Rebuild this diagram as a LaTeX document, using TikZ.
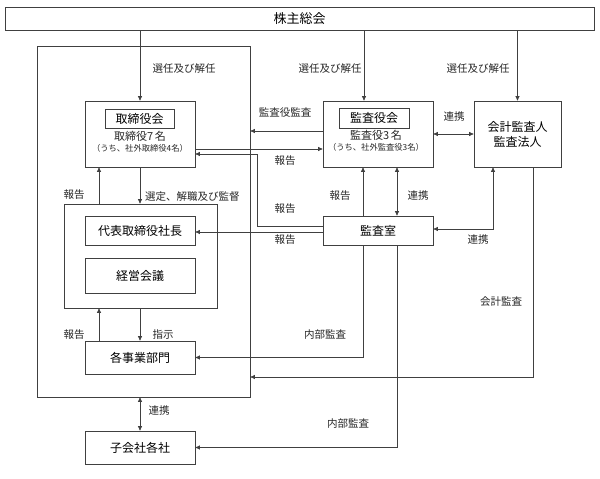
\documentclass[tikz,border=0pt]{standalone}
\usepackage{fontspec}
\newfontfamily\jp{Noto Sans CJK JP}
\usetikzlibrary{arrows.meta,calc}
\tikzset{
  box/.style={draw=black!75, line width=0.7pt, rectangle, inner sep=0pt, font=\jp\fontsize{12}{13}\selectfont},
  lbl/.style={font=\jp\fontsize{10.5}{12}\selectfont, inner sep=0pt, text=black!85},
  con/.style={draw=black!75, line width=0.7pt},
  arr/.style={con, -{Triangle[length=4.5pt,width=4pt]}},
  darr/.style={con, {Triangle[length=4.5pt,width=4pt]}-{Triangle[length=4.5pt,width=4pt]}},
}
\begin{document}
\begin{tikzpicture}[x=1pt,y=-1pt]
\useasboundingbox (0,0) rectangle (600,479);
% boxes
\node[box, minimum width=589pt, minimum height=23pt, font=\jp\fontsize{13}{14}\selectfont] (soukai) at (299.5,18.5) {株主総会};
\node[box, minimum width=213pt, minimum height=351pt] (outer) at (143.5,221.5) {};
\node[box, minimum width=110pt, minimum height=66pt] (tori) at (140,134) {};
\node[box, minimum width=69pt, minimum height=19pt] (torit) at (139.5,118.5) {取締役会};
\node[lbl, font=\jp\fontsize{11}{12}\selectfont] (tori1) at (140,136) {取締役7\,名};
\node[lbl, font=\jp\fontsize{8.3}{9}\selectfont] (tori2) at (140,148) {（うち、社外取締役4名）};
\node[box, minimum width=110pt, minimum height=66pt] (kansa) at (378,134) {};
\node[box, minimum width=70pt, minimum height=20pt] (kansat) at (374,118) {監査役会};
\node[lbl, font=\jp\fontsize{11}{12}\selectfont] (kansa1) at (376,135) {監査役3\,名};
\node[lbl, font=\jp\fontsize{8.3}{9}\selectfont] (kansa2) at (376,147) {（うち、社外監査役3名）};
\node[box, minimum width=87pt, minimum height=66pt, align=center, font=\jp\fontsize{12}{15}\selectfont] (kaikei) at (517.5,134) {会計監査人\\監査法人};
\node[box, minimum width=153pt, minimum height=104pt] (group) at (140.5,256) {};
\node[box, minimum width=110pt, minimum height=29pt] (daihyo) at (140,230.5) {代表取締役社長};
\node[box, minimum width=110pt, minimum height=35pt] (keiei) at (140,275.5) {経営会議};
\node[box, minimum width=110pt, minimum height=33pt] (jigyo) at (140,357.5) {各事業部門};
\node[box, minimum width=110pt, minimum height=29pt] (shitsu) at (378,230.5) {監査室};
\node[box, minimum width=110pt, minimum height=33pt] (kogai) at (140,447.5) {子会社各社};
% coordinates
\coordinate (c1) at ([xshift=-14pt]kansa.north);
\coordinate (c2) at ([yshift=3pt]kansa.west);
\coordinate (c3) at ([yshift=-15pt]tori.east);
\coordinate (c4) at ([yshift=4pt]shitsu.west);
\coordinate (c5) at ([yshift=-20pt]tori.east);
\coordinate (c6) at ([yshift=-1.5pt]shitsu.west);
\coordinate (c7) at ([xshift=-41pt]tori.south);
\coordinate (c8) at ([xshift=-41pt]jigyo.north);
\coordinate (c9) at ([xshift=-15pt]shitsu.south);
\coordinate (c10) at ([xshift=15.5pt]kaikei.south);
\coordinate (c11) at ([yshift=-155.5pt]outer.east);
\coordinate (c12) at ([xshift=19pt]shitsu.south);
\coordinate (c13) at ([xshift=-15pt]shitsu.north);
\coordinate (c14) at ([xshift=19pt]shitsu.north);
\coordinate (c15) at ([yshift=1.5pt]shitsu.east);
\coordinate (c16) at ([xshift=-24.5pt]kaikei.south);
% connectors
\draw[arr] (tori.north |- soukai.south) -- (tori.north);
\draw[arr] (c1 |- soukai.south) -- (c1);
\draw[arr] (kaikei.north |- soukai.south) -- (kaikei.north);
\draw[arr] (c2) -- (c2 -| outer.east);
\draw[arr] (c3) -- (c3 -| kansa.west);
\draw[arr] (c4) -- ++(-65,0) |- (c5);
\draw[arr] (c6) -- (c6 -| daihyo.east);
\draw[arr] (c7 |- group.north) -- (c7);
\draw[arr] (tori.south) -- (tori.south |- group.north);
\draw[arr] (c8) -- (c8 |- group.south);
\draw[arr] (jigyo.north |- group.south) -- (jigyo.north);
\draw[arr] (c9) |- (jigyo.east);
\draw[arr] (c10) |- (c11);
\draw[arr] (c12) |- (kogai.east);
\draw[darr] (kogai.north |- outer.south) -- (kogai.north);
\draw[arr] (c13) -- (c13 |- kansa.south);
\draw[darr] (c14) -- (c14 |- kansa.south);
\draw[darr] (kansa.east) -- (kaikei.west);
\draw[darr] (c15) -| (c16);
% labels
\node[lbl] (l1) at (184,69) {選任及び解任};
\node[lbl] (l2) at (330,69) {選任及び解任};
\node[lbl] (l3) at (478,69) {選任及び解任};
\node[lbl] (l4) at (285,113) {監査役監査};
\node[lbl] (l5) at (285,161) {報告};
\node[lbl] (l6) at (285,209) {報告};
\node[lbl] (l7) at (285,240) {報告};
\node[lbl] (l8) at (454,117) {連携};
\node[lbl] (l9) at (340,196) {報告};
\node[lbl] (l10) at (418,196) {連携};
\node[lbl] (l11) at (478,240) {連携};
\node[lbl] (l12) at (74,195) {報告};
\node[lbl, anchor=west] (l13) at (145,197) {選定、解職及び監督};
\node[lbl] (l14) at (74,335) {報告};
\node[lbl] (l15) at (163,335) {指示};
\node[lbl] (l16) at (325,335) {内部監査};
\node[lbl] (l17) at (501,302) {会計監査};
\node[lbl] (l18) at (159,411) {連携};
\node[lbl] (l19) at (348,424) {内部監査};
\end{tikzpicture}
\end{document}
